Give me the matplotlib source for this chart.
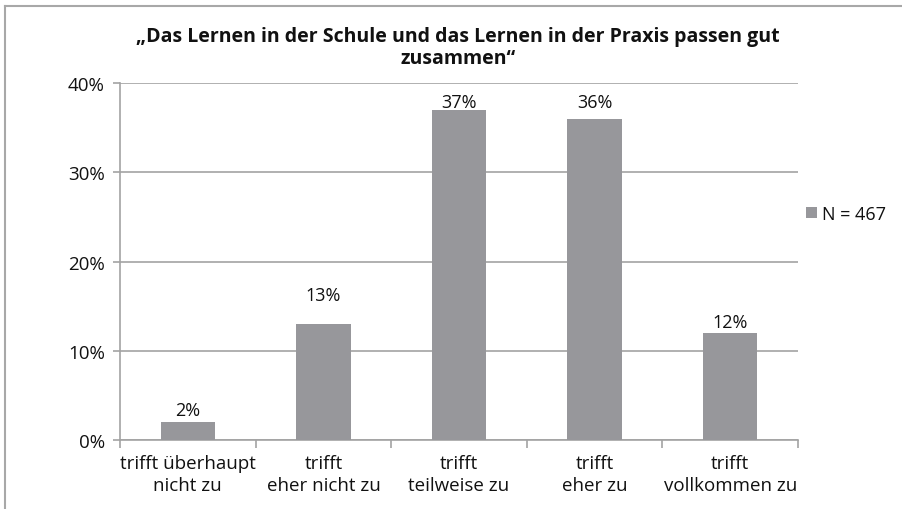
import matplotlib.pyplot as plt

plt.rcParams['font.family'] = ['Open Sans', 'DejaVu Sans']

categories = ["trifft überhaupt\nnicht zu", "trifft\neher nicht zu", "trifft\nteilweise zu",
              "trifft\neher zu", "trifft\nvollkommen zu"]
values = [2, 13, 37, 36, 12]
series_name = "N = 467"
title = "„Das Lernen in der Schule und das Lernen in der Praxis passen gut\nzusammen“"

# distance (px) of each value label above its bar
label_offsets = [12, 29, 8, 17, 11]

bar_color = "#97979b"
line_color = "#a3a3a3"
text_color = "#111111"

fig = plt.figure(figsize=(9.02, 5.10), dpi=100)
W, H = 902, 510
ax = fig.add_axes([120 / W, 1 - 441 / H, (798 - 120) / W, (441 - 84) / H])

x = list(range(len(values)))
bars = ax.bar(x, values, width=0.4, color=bar_color, zorder=3, label=series_name)
for xi, v, off in zip(x, values, label_offsets):
    ax.annotate(f"{v}%", (xi, v), xytext=(0, off * 0.72), textcoords="offset points",
                ha="center", va="center", fontsize=13, color=text_color)

ax.set_xlim(-0.5, len(values) - 0.5)
ax.set_ylim(0, 40)
ax.set_yticks([0, 10, 20, 30, 40])
ax.set_yticklabels([f"{t}%" for t in [0, 10, 20, 30, 40]], fontsize=13.5, color=text_color)
ax.yaxis.grid(True, color=line_color, linewidth=1.2, zorder=0)

# category labels sit between minor ticks at the category borders
ax.set_xticks(x)
ax.set_xticklabels(categories, fontsize=13.5, color=text_color, linespacing=1.3)
ax.tick_params(axis="x", which="major", length=0, pad=10)
ax.set_xticks([i - 0.5 for i in range(len(values) + 1)], minor=True)
ax.tick_params(axis="x", which="minor", length=6, width=1.2, color=line_color)
ax.tick_params(axis="y", length=5, width=1.2, color=line_color, pad=6)

for side in ["top", "right"]:
    ax.spines[side].set_visible(False)
for side in ["left", "bottom"]:
    ax.spines[side].set_color(line_color)
    ax.spines[side].set_linewidth(1.2)

fig.text(458 / W, 1 - 48 / H, title, ha="center", va="center", fontsize=14,
         fontweight="bold", color=text_color, linespacing=1.15)

leg = ax.legend(handles=[bars], loc="center left", bbox_to_anchor=(806 / W, 1 - 215 / H),
                bbox_transform=fig.transFigure, frameon=False, fontsize=13,
                handlelength=0.6, handleheight=0.6, handletextpad=0.3, borderaxespad=0,
                borderpad=0)
for t in leg.get_texts():
    t.set_color(text_color)

# outer chart frame (top and left edges visible)
fig.add_artist(plt.Line2D([5 / W, 1], [1 - 7 / H, 1 - 7 / H], transform=fig.transFigure,
                          color="#a8a8a8", linewidth=1.5))
fig.add_artist(plt.Line2D([5 / W, 5 / W], [0, 1 - 7 / H], transform=fig.transFigure,
                          color="#a8a8a8", linewidth=1.5))

fig.savefig("out.png", dpi=100, facecolor="white")
